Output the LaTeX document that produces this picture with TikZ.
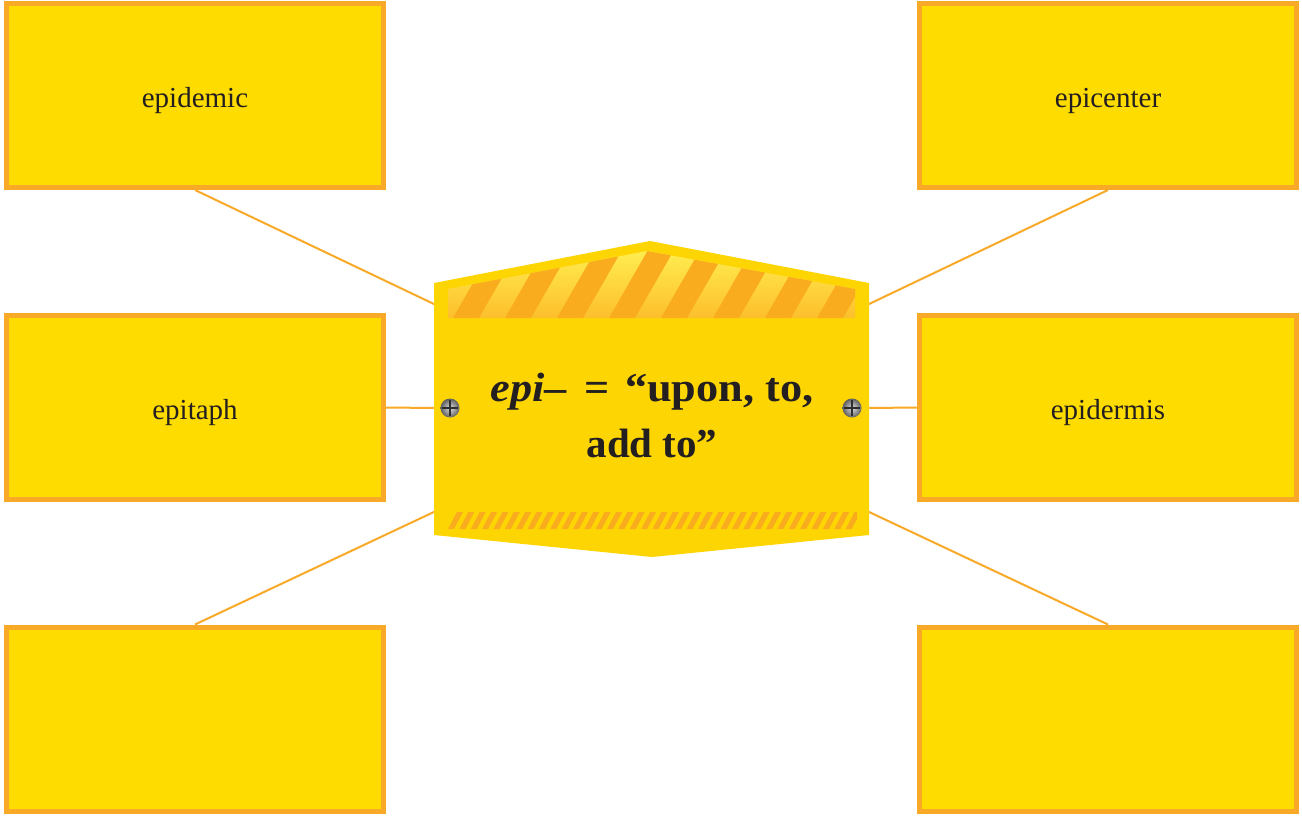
\documentclass[tikz,border=0pt]{standalone}
\usepackage{fontspec}
\setmainfont{Liberation Serif}
\newfontfamily\titlewide[FakeStretch=1.08]{Liberation Serif}
\usetikzlibrary{calc}
\definecolor{boxfill}{HTML}{FFDC00}
\definecolor{boxline}{HTML}{F8A928}
\definecolor{signfill}{HTML}{FDD503}
\definecolor{stripe}{HTML}{F9AC1E}
\definecolor{lighttop}{HTML}{FFF152}
\definecolor{lightbot}{HTML}{FDBF2C}
\definecolor{inktext}{HTML}{231F20}
\tikzset{
  wordbox/.style={draw=boxline, fill=boxfill, line width=5pt,
    minimum width=377pt, minimum height=184pt, inner sep=0pt,
    text height=30pt, text depth=6pt,
    font=\fontsize{29}{32}\selectfont, text=inktext},
  link/.style={draw=boxline, line width=2pt},
  screw/.style={circle, minimum size=19pt, inner sep=0pt,
    shade, inner color=gray!25, outer color=gray!75!black},
}
\begin{document}
\begin{tikzpicture}[x=1pt,y=-1pt]
\useasboundingbox (0,0) rectangle (1302,815);

% word boxes
\node[wordbox] (b1) at (195,95.5) {epidemic};
\node[wordbox] (b2) at (195,407.5) {epitaph};
\node[wordbox] (b3) at (195,719) {};
\node[wordbox] (b4) at (1108,95.5) {epicenter};
\node[wordbox] (b5) at (1108,407.5) {epidermis};
\node[wordbox] (b6) at (1108,719) {};

% attachment points on the sign
\coordinate (s1) at (436,305);
\coordinate (s2) at (436,408);
\coordinate (s3) at (436,511);
\coordinate (s4) at (867,305);
\coordinate (s5) at (867,408);
\coordinate (s6) at (867,511);

\draw[link] (b1.south) -- (s1);
\draw[link] (b2.east) -- (s2);
\draw[link] (b3.north) -- (s3);
\draw[link] (b4.south) -- (s4);
\draw[link] (b5.west) -- (s5);
\draw[link] (b6.north) -- (s6);

% sign body
\fill[signfill] (434,283) -- (650,241) -- (869,283) -- (869,535)
  -- (652,557) -- (434,535) -- cycle;

% striped band at the top
\begin{scope}
  \clip (448,318) -- (448,289) -- (647,251) -- (855,289) -- (855,318) -- cycle;
  \shade[top color=lighttop, bottom color=lightbot] (440,245) rectangle (860,318);
  \foreach \k in {-2,...,9} {
    \fill[stripe] ({453+52*\k},318) -- ({479+52*\k},318)
      -- ({479+52*\k+39},250) -- ({453+52*\k+39},250) -- cycle;
  }
\end{scope}

% thin stripes at the bottom
\begin{scope}
  \clip (448,512) rectangle (857,529);
  \foreach \k in {0,...,37} {
    \fill[stripe] ({448+11.36*\k},529) -- ({454+11.36*\k},529)
      -- ({463+11.36*\k},512) -- ({457+11.36*\k},512) -- cycle;
  }
\end{scope}

% screws
\foreach \n/\x in {l/450,r/852} {
  \node[screw] (screw\n) at (\x,408) {};
  \draw[gray!35!black, line width=1.8pt] ($(screw\n.center)+(-8,0)$) -- ($(screw\n.center)+(8,0)$);
  \draw[gray!35!black, line width=1.8pt] ($(screw\n.center)+(0,-8)$) -- ($(screw\n.center)+(0,8)$);
}

% title
\node[text=inktext, font=\bfseries\fontsize{41}{56}\selectfont, align=center]
  (title) at (652,415) {{\titlewide\textit{epi}–\hspace{7pt} = \hspace{4pt}“upon, to,}\\ add to”};
\end{tikzpicture}
\end{document}
